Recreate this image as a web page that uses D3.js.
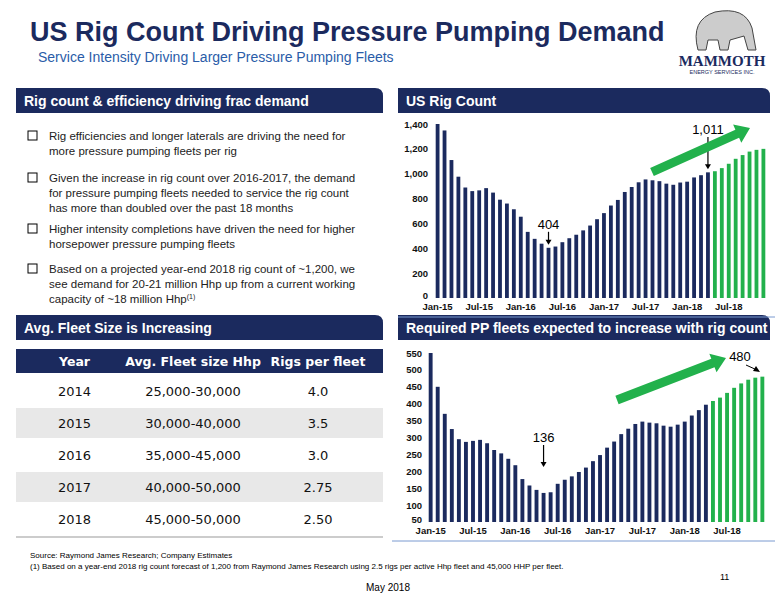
<!DOCTYPE html><html><head><meta charset="utf-8"><script src="https://cdn.jsdelivr.net/npm/d3@7"></script>
<style>body{margin:0;background:#fff}svg{font-family:Arial,"Liberation Sans",sans-serif}</style></head><body><svg id="s" width="776" height="600"></svg>
<script>
const months=d3.range(48).map(i=>{const y=15+Math.floor(i/12),m=i%12;return ["Jan","Feb","Mar","Apr","May","Jun","Jul","Aug","Sep","Oct","Nov","Dec"][m]+"-"+y;});
const tickLabels=["Jan-15","Jul-15","Jan-16","Jul-16","Jan-17","Jul-17","Jan-18","Jul-18"];
const rigActual=[1400,1348,1110,976,889,860,866,884,848,791,760,714,654,532,476,437,404,414,449,481,509,544,583,634,683,744,789,853,893,931,954,947,940,920,911,929,936,970,988,1011];
const rigForecast=[1020,1045,1080,1120,1150,1178,1192,1200];
const fleetActual=[550,450,370,325,295,287,290,293,283,263,253,237,218,177,158,145,136,138,163,175,185,198,211,230,248,270,288,310,326,340,347,344,342,335,332,338,347,365,381,397];
const fleetForecast=[408,418,432,447,460,471,477,480];
const tableHead=["Year","Avg. Fleet size Hhp","Rigs per fleet"];
const tableRows=[["2014","25,000-30,000","4.0"],["2015","30,000-40,000","3.5"],["2016","35,000-45,000","3.0"],["2017","40,000-50,000","2.75"],["2018","45,000-50,000","2.50"]];
const bullets=[["Rig efficiencies and longer laterals are driving the need for","more pressure pumping fleets per rig"],["Given the increase in rig count over 2016-2017, the demand","for  pressure pumping fleets needed to service the rig count","has more than doubled over the past 18 months"],["Higher intensity completions have driven the need for higher","horsepower pressure pumping fleets"],["Based on a projected year-end 2018 rig count of ~1,200, we","see demand for 20-21 million Hhp up from a current working","capacity of ~18 million Hhp"]];
const NAVY="#1b2a5e",GREEN="#22b14c";
const svg=d3.select("#s");
svg.append("text").attr("x",30).attr("y",41).attr("font-size",27).attr("font-weight","bold").attr("fill",NAVY).text("US Rig Count Driving Pressure Pumping Demand");
svg.append("text").attr("x",38).attr("y",62).attr("font-size",14).attr("fill","#2a5ca8").text("Service Intensity Driving Larger Pressure Pumping Fleets");
svg.append("path").attr("d","M698,50 Q690,20 715,12 Q745,6 752,28 L756,50 L748,50 L744,36 L730,40 L728,50 L720,50 L718,40 L708,40 L706,50Z").attr("fill","#ccc").attr("stroke","#444");
svg.append("text").attr("x",722).attr("y",66).attr("text-anchor","middle").attr("font-size",15).attr("font-weight","bold").attr("font-family","Liberation Serif,serif").attr("fill",NAVY).text("MAMMOTH");
svg.append("text").attr("x",722).attr("y",74).attr("text-anchor","middle").attr("font-size",5.5).attr("fill",NAVY).text("ENERGY SERVICES INC.");
function header(x,y,w,t){svg.append("path").attr("d",`M${x},${y}H${x+w-8}Q${x+w},${y} ${x+w},${y+8}V${y+25}H${x}Z`).attr("fill",NAVY);
svg.append("text").attr("x",x+8).attr("y",y+18).attr("font-size",14).attr("font-weight","bold").attr("fill","#fff").text(t);}
header(16,88,367,"Rig count & efficiency driving frac demand");
header(398,88,372,"US Rig Count");
header(16,315,367,"Avg. Fleet Size is Increasing");
header(398,315,372,"Required PP fleets expected to increase with rig count");
let by=[140,182,233,273];
bullets.forEach((b,i)=>{svg.append("rect").attr("x",28).attr("y",by[i]-9).attr("width",9).attr("height",9).attr("fill","none").attr("stroke","#000");
b.forEach((l,j)=>{const t=svg.append("text").attr("x",49).attr("y",by[i]+j*15).attr("font-size",11.5).attr("fill","#222").text(l);if(i==3&&j==2)t.append("tspan").attr("font-size",7).attr("dy",-4).text("(1)");});});
const tx=[16,133,253,383];
svg.append("rect").attr("x",16).attr("y",349).attr("width",367).attr("height",24).attr("fill",NAVY);
tableHead.forEach((h,i)=>svg.append("text").attr("x",(tx[i]+tx[i+1])/2).attr("y",366).attr("text-anchor","middle").attr("font-size",12.5).attr("font-weight","bold").attr("font-family","DejaVu Sans,sans-serif").attr("fill","#fff").text(h));
tableRows.forEach((r,k)=>{const y=376+k*32;svg.append("rect").attr("x",16).attr("y",y).attr("width",367).attr("height",30).attr("fill",k%2==0?"#fff":"#e8e8e8");
r.forEach((c,i)=>svg.append("text").attr("x",(tx[i]+tx[i+1])/2).attr("y",y+20).attr("text-anchor","middle").attr("font-size",13).attr("font-family","DejaVu Sans,sans-serif").attr("fill","#111").text(c));});
svg.append("line").attr("x1",16).attr("x2",383).attr("y1",537).attr("y2",537).attr("stroke","#999");
function chart(actual,forecast,x0,x1,axX,y0,y1,dom,ticks,fmt,ann){
 const all=actual.concat(forecast);
 const x=d3.scaleBand().domain(months).range([x0,x1]).paddingInner(0.45).paddingOuter(0.1);
 const y=d3.scaleLinear().domain(dom).range([y0,y1]);
 const g=svg.append("g");
 g.selectAll("rect").data(all).join("rect").attr("x",(d,i)=>x(months[i])).attr("width",x.bandwidth()).attr("y",d=>y(d)).attr("height",d=>y0-y(d)).attr("fill",(d,i)=>i<actual.length?NAVY:GREEN);
 const ay=g.append("g").attr("transform",`translate(${axX},0)`).call(d3.axisLeft(y).tickValues(ticks).tickFormat(fmt).tickSize(0).tickPadding(0));
 ay.select(".domain").remove();ay.selectAll("text").attr("font-size",9.5).attr("font-weight","bold").attr("fill","#111");
 ay.selectAll("text").filter(d=>d===dom[0]).attr("dy","0");
 const ax=g.append("g").attr("transform",`translate(0,${y0})`).call(d3.axisBottom(x).tickValues(tickLabels).tickSize(0).tickPadding(5));
 ax.select(".domain").remove();ax.selectAll("text").attr("font-size",9.5).attr("font-weight","bold").attr("fill","#111");
 g.append("line").attr("x1",axX-30).attr("x2",775).attr("y1",y0+19).attr("y2",y0+19).attr("stroke","#7a9ad0");
 ann(g,x,y);
}
function arrowDown(g,cx,ya,yb){g.append("line").attr("x1",cx).attr("x2",cx).attr("y1",ya).attr("y2",yb-4).attr("stroke","#000").attr("stroke-width",1.2);
g.append("path").attr("d",`M${cx-3},${yb-5}L${cx+3},${yb-5}L${cx},${yb}Z`).attr("fill","#000");}
function bigArrow(g,xa,ya,xb,yb){const a=Math.atan2(yb-ya,xb-xa),L=Math.hypot(xb-xa,yb-ya);
g.append("path").attr("transform",`translate(${xa},${ya}) rotate(${a*180/Math.PI})`).attr("d",`M0,-4.5H${L-14}V-10L${L},0L${L-14},10V4.5H0Z`).attr("fill",GREEN);}
chart(rigActual,rigForecast,435,766,428,298,124,[0,1400],[0,200,400,600,800,1000,1200,1400],d3.format(","),(g,x,y)=>{
 const cMin=x("May-16")+x.bandwidth()/2;g.append("text").attr("x",cMin).attr("y",y(404)-19).attr("text-anchor","middle").attr("font-size",13).text("404");arrowDown(g,cMin,y(404)-16,y(404)-3);
 const cMax=x("Apr-18")+x.bandwidth()/2;g.append("text").attr("x",cMax).attr("y",134).attr("text-anchor","middle").attr("font-size",13).text("1,011");arrowDown(g,cMax,137,y(1011)-3);
 bigArrow(g,652,172,750,128);});
chart(fleetActual,fleetForecast,428,765,422,522,353,[50,550],[50,100,150,200,250,300,350,400,450,500,550],d3.format("d"),(g,x,y)=>{
 const cMin=x("May-16")+x.bandwidth()/2;g.append("text").attr("x",cMin).attr("y",442).attr("text-anchor","middle").attr("font-size",13).text("136");arrowDown(g,cMin,445,467);
 g.append("text").attr("x",740).attr("y",361).attr("text-anchor","middle").attr("font-size",13).text("480");
 g.append("line").attr("x1",746).attr("y1",365).attr("x2",757).attr("y2",370).attr("stroke","#000");g.append("path").attr("d","M760,372L753,371L756,366Z").attr("fill","#000");
 bigArrow(g,617,400,726,358);});
svg.append("text").attr("x",30).attr("y",558).attr("font-size",8).text("Source: Raymond James Research; Company Estimates");
svg.append("text").attr("x",30).attr("y",569).attr("font-size",8).text("(1) Based on a year-end 2018 rig count forecast of 1,200 from Raymond James Research using 2.5 rigs per active Hhp fleet and 45,000 HHP per fleet.");
svg.append("text").attr("x",720).attr("y",580).attr("font-size",9).text("11");
svg.append("text").attr("x",388).attr("y",591).attr("text-anchor","middle").attr("font-size",10).text("May 2018");
</script></body></html>
